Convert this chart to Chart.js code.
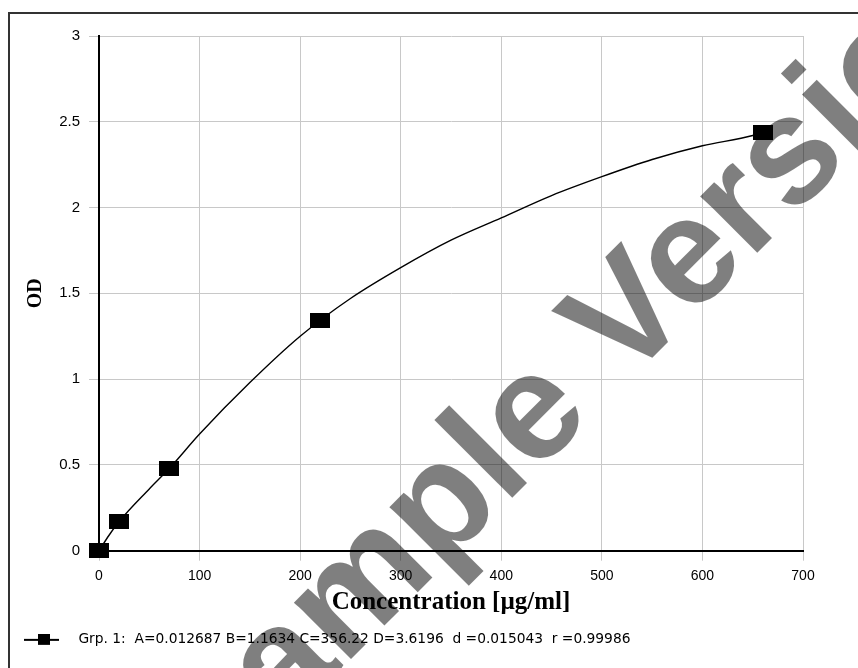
<!DOCTYPE html>
<html>
<head>
<meta charset="utf-8">
<title>Standard curve</title>
<script src="https://cdn.jsdelivr.net/npm/chart.js@4.4.1/dist/chart.umd.min.js"></script>
<style>
  html, body { margin: 0; padding: 0; background: #fff; overflow: hidden; }
  #frame { position: absolute; left: 8px; top: 12px; width: 900px; height: 700px; border: 2px solid #333; box-sizing: border-box; }
  #myChart { position: absolute; left: 0; top: 0; }
</style>
</head>
<body>
<div id="frame"></div>
<canvas id="myChart" width="858" height="668"></canvas>
<script>
// standards (concentration µg/ml -> OD)
const concentrations = [0, 20, 70, 220, 660];
const odValues = [0, 0.17, 0.48, 1.34, 2.44];

// fitted curve
const curveX = [0, 10, 20, 50, 70, 100, 150, 200, 250, 300, 350, 400, 450, 500, 550, 600, 650, 660];
const curveY = [0, 0.09, 0.17, 0.36, 0.48, 0.68, 0.98, 1.25, 1.47, 1.65, 1.81, 1.94, 2.07, 2.18, 2.28, 2.36, 2.42, 2.44];

const yTickLabels = ['0', '0.5', '1', '1.5', '2', '2.5', '3'];
const legendText = 'Grp. 1:  A=0.012687 B=1.1634 C=356.22 D=3.6196  d =0.015043  r =0.99986';

document.addEventListener('DOMContentLoaded', () => {
    // black box used as the point marker
    const marker = document.createElement('canvas');
    marker.width = 20;
    marker.height = 15;
    const mctx = marker.getContext('2d');
    mctx.fillStyle = '#000';
    mctx.fillRect(0, 0, 20, 15);

    // line + box for the legend
    const legendMark = document.createElement('canvas');
    legendMark.width = 35;
    legendMark.height = 12;
    const lctx = legendMark.getContext('2d');
    lctx.fillStyle = '#000';
    lctx.fillRect(0, 5, 35, 2);
    lctx.fillRect(14, 0, 12, 11);

    const watermark = {
        id: 'watermark',
        afterDraw(chart) {
            const ctx = chart.ctx;
            ctx.save();
            ctx.translate(212, 798);
            ctx.rotate(-45 * Math.PI / 180);
            ctx.font = 'bold 152px "Liberation Sans", Arial, sans-serif';
            ctx.fillStyle = 'rgba(0,0,0,0.5)';
            ctx.textBaseline = 'alphabetic';
            ctx.fillText('Sample Version', 0, 0);
            ctx.restore();
        }
    };

    new Chart(document.getElementById('myChart'), {
        type: 'scatter',
        data: {
            datasets: [{
                label: 'Grp. 1',
                data: concentrations.map((c, i) => ({ x: c, y: odValues[i] })),
                pointStyle: marker,
                pointRadius: 8,
                pointHoverRadius: 8,
                showLine: false,
                clip: false,
                order: 0
            }, {
                label: 'fit',
                data: curveX.map((c, i) => ({ x: c, y: curveY[i] })),
                showLine: true,
                borderColor: '#000',
                borderWidth: 1.4,
                pointRadius: 0,
                cubicInterpolationMode: 'monotone',
                order: 1
            }]
        },
        options: {
            responsive: false,
            animation: false,
            events: [],
            layout: {
                padding: { left: 8, top: 36, right: 55, bottom: 11.25 }
            },
            plugins: {
                tooltip: { enabled: false },
                legend: {
                    position: 'bottom',
                    align: 'start',
                    labels: {
                        usePointStyle: true,
                        pointStyleWidth: 60,
                        padding: 3.5,
                        color: '#000',
                        font: { family: '"DejaVu Sans", sans-serif', size: 13.8 },
                        generateLabels: () => [{
                            text: legendText,
                            pointStyle: legendMark,
                            fillStyle: '#000',
                            strokeStyle: '#000',
                            lineWidth: 0,
                            datasetIndex: 0
                        }]
                    }
                }
            },
            scales: {
                x: {
                    type: 'linear',
                    min: 0,
                    max: 700,
                    afterFit: s => { s.height = 78.75; },
                    ticks: {
                        stepSize: 100,
                        padding: 7,
                        color: '#000',
                        font: { family: '"Liberation Sans", Arial, sans-serif', size: 14 }
                    },
                    grid: { color: '#c8c8c8', lineWidth: 1, tickLength: 10 },
                    border: { display: true, color: '#000', width: 2 },
                    title: {
                        display: true,
                        text: 'Concentration [µg/ml]',
                        color: '#000',
                        padding: { top: 0, bottom: 14.25 },
                        font: { family: '"Liberation Serif", "Times New Roman", serif', size: 25, weight: 'bold', lineHeight: 1 }
                    }
                },
                y: {
                    min: 0,
                    max: 3,
                    afterFit: s => { s.width = 91; },
                    ticks: {
                        stepSize: 0.5,
                        padding: 9,
                        color: '#000',
                        font: { family: '"Liberation Sans", Arial, sans-serif', size: 15 },
                        callback: (v) => yTickLabels[Math.round(v * 2)]
                    },
                    grid: { color: '#c8c8c8', lineWidth: 1, tickLength: 10 },
                    border: { display: true, color: '#000', width: 2 },
                    title: {
                        display: true,
                        text: 'OD',
                        color: '#000',
                        padding: { top: 18, bottom: 0 },
                        font: { family: '"Liberation Serif", "Times New Roman", serif', size: 20, weight: 'bold', lineHeight: 1 }
                    }
                }
            }
        },
        plugins: [watermark]
    });
});
</script>
</body>
</html>
